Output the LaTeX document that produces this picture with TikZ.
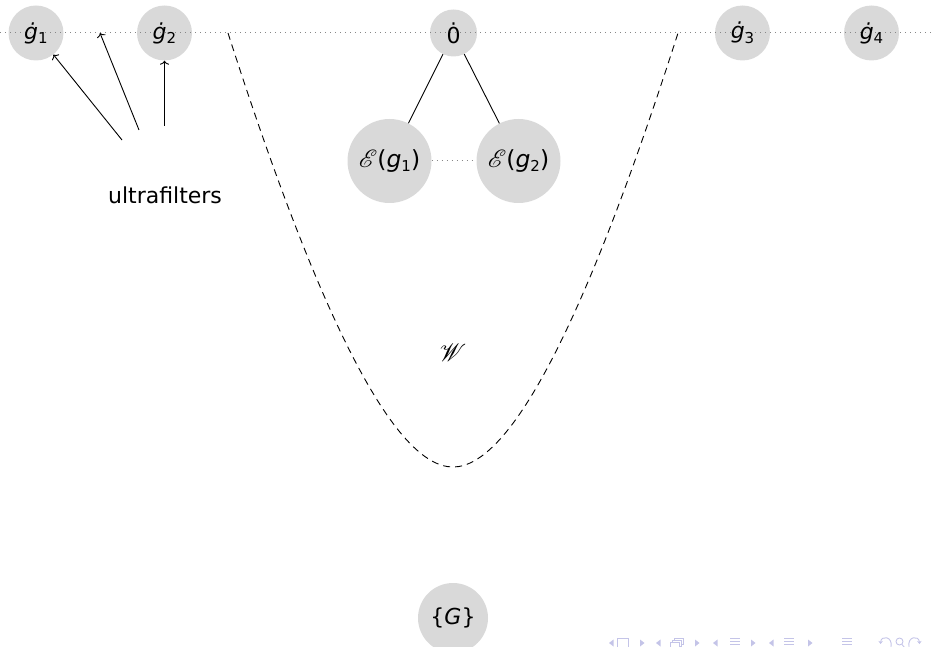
\documentclass[tikz,border=0pt]{standalone}
\usepackage{fontspec}
\setmainfont{DejaVu Sans}
\usepackage{mathrsfs}
\usetikzlibrary{arrows.meta}
\pgfdeclarelayer{bg}
\pgfsetlayers{bg,main}
\definecolor{nodegray}{RGB}{217,217,217}
\definecolor{dotgray}{RGB}{135,135,135}
\definecolor{navc}{RGB}{196,196,232}
\newcommand{\lowsub}[1]{\raisebox{-4.5pt}{\fontsize{15}{15}\selectfont #1}}
\newcommand{\gdotsub}[1]{{\itshape ^^^^0121}\lowsub{#1}}
\newcommand{\gplainsub}[1]{{\itshape g}\lowsub{#1}}
\begin{document}
\begin{tikzpicture}[x=1pt,y=-1pt,
  every node/.style={font=\fontsize{22}{26}\selectfont},
  circ/.style={circle,inner sep=0pt},
  gnode/.style={circ,minimum size=55pt},
  enode/.style={circ,minimum size=84pt,font=\fontsize{23.5}{28}\selectfont},
  conn/.style={line width=0.9pt},
  arr/.style={line width=0.9pt,-{To[length=4pt,width=9pt]}},
  dotline/.style={dotgray,line width=1pt,dash pattern=on 1pt off 4pt},
  dashline/.style={line width=0.9pt,dash pattern=on 7pt off 5pt},
  navline/.style={navc,line width=0.9pt},
  navarr/.style={navc,line width=0.9pt,-{Stealth[length=3pt,width=4.5pt]}}]
\useasboundingbox (0,0) rectangle (934,647);

% nodes
\node[gnode] (g1) at (36,33) {\gdotsub{1}};
\node[gnode] (g2) at (164.5,33) {\gdotsub{2}};
\node[gnode] (g3) at (742.5,33) {\gdotsub{3}};
\node[gnode] (g4) at (871.5,33) {\gdotsub{4}};
\node[circ,minimum size=47pt] (zero) at (453.5,33) {0^^^^0307};
\node[enode] (e1) at (389.5,161) {$\mathscr{E}$(\gplainsub{1})};
\node[enode] (e2) at (518.5,161) {$\mathscr{E}$(\gplainsub{2})};
\node[circ,minimum size=70pt] (G) at (453,618) {\{{\itshape G}\}};
\node (uf) at (165,195) {ultrafilters};
\node[font=\fontsize{25}{30}\selectfont] (W) at (453,353) {$\mathscr{W}$};

% coordinates
\coordinate (L) at (0,33);
\coordinate (R) at (934,33);
\coordinate (u) at (100,33);
\coordinate (a1) at (122,140);
\coordinate (a2) at (139,130);
\coordinate (a3) at (164.5,126);
\coordinate (cL) at (228,33);
\coordinate (cB) at (453,467);
\coordinate (cR) at (678,33);

% fills and the dotted line below the texts
\begin{pgfonlayer}{bg}
  \fill[nodegray] (g1.center) circle (27.5pt);
  \fill[nodegray] (g2.center) circle (27.5pt);
  \fill[nodegray] (g3.center) circle (27.5pt);
  \fill[nodegray] (g4.center) circle (27.5pt);
  \fill[nodegray] (zero.center) circle (23.5pt);
  \fill[nodegray] (e1.center) circle (42pt);
  \fill[nodegray] (e2.center) circle (42pt);
  \fill[nodegray] (G.center) circle (35pt);
  \draw[dotline] (L) -- (R);
\end{pgfonlayer}

% connectors
\draw[conn] (zero) -- (e1);
\draw[conn] (zero) -- (e2);
\draw[dotline] (e1) -- (e2);
\draw[arr] (a1) -- (g1);
\draw[arr] (a2) -- (u);
\draw[arr] (a3) -- (g2);

% dashed region
\draw[dashline] (cL) .. controls (320,320) and (395,467) .. (cB)
                     .. controls (511,467) and (586,320) .. (cR);

% navigation symbols
\fill[navc] (613.5,639.5) -- (609,643) -- (613.5,646.5) -- cycle;
\draw[navline] (617,638.5) rectangle (628,648);
\fill[navc] (640,639.5) -- (644.5,643) -- (640,646.5) -- cycle;
\fill[navc] (660.5,639.5) -- (656,643) -- (660.5,646.5) -- cycle;
\draw[navline] (670,642) rectangle (679,648);
\draw[navline] (672,642) -- (672,640) -- (681,640) -- (681,646) -- (679,646);
\draw[navline] (674,640) -- (674,638) -- (683,638) -- (683,644) -- (681,644);
\fill[navc] (695,639.5) -- (699.5,643) -- (695,646.5) -- cycle;
\fill[navc] (717.5,639.5) -- (713,643) -- (717.5,646.5) -- cycle;
\foreach \yy in {638,641,644,647} \draw[navline] (730,\yy) -- (740,\yy);
\fill[navc] (751,639.5) -- (755.5,643) -- (751,646.5) -- cycle;
\fill[navc] (773.5,639.5) -- (769,643) -- (773.5,646.5) -- cycle;
\foreach \yy in {638,641,644,647} \draw[navline] (784,\yy) -- (794,\yy);
\fill[navc] (808,639.5) -- (812.5,643) -- (808,646.5) -- cycle;
\foreach \yy in {638,641,644,647} \draw[navline] (842,\yy) -- (852,\yy);
\draw[navarr] (891,647) .. controls (893,636) and (881,635) .. (880.5,644);
\draw[navline] (899.5,641.5) circle (3.5pt);
\draw[navline] (902,644.5) -- (904.5,647.5);
\draw[navarr] (909,647) .. controls (907,636) and (919,635) .. (919.5,644);
\end{tikzpicture}
\end{document}
